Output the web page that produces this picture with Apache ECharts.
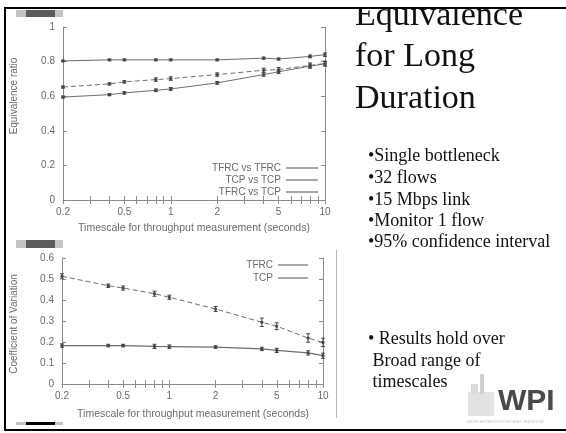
<!DOCTYPE html>
<html><head><meta charset="utf-8">
<script src="https://cdn.jsdelivr.net/npm/echarts@6/dist/echarts.min.js"></script>
<style>html,body{margin:0;padding:0;background:#fff}#c{width:566px;height:433px}</style>
</head><body><div id="c"></div>
<script>
// ---- data: top chart (equivalence ratio) ----
const timescales = [0.2, 0.4, 0.5, 0.8, 1, 2, 4, 5, 8, 10];
const tfrcVsTfrc = [0.804, 0.81, 0.81, 0.81, 0.81, 0.81, 0.82, 0.815, 0.83, 0.84];
const tfrcVsTfrcErr = [0.004, 0.005, 0.005, 0.005, 0.005, 0.005, 0.006, 0.006, 0.008, 0.01];
const tfrcVsTcp = [0.653, 0.671, 0.683, 0.696, 0.702, 0.725, 0.75, 0.754, 0.778, 0.789];
const tfrcVsTcpErr = [0.006, 0.006, 0.007, 0.01, 0.01, 0.01, 0.012, 0.012, 0.014, 0.014];
const tcpVsTcp = [0.595, 0.609, 0.619, 0.634, 0.642, 0.677, 0.725, 0.741, 0.774, 0.787];
const tcpVsTcpErr = [0.006, 0.006, 0.007, 0.008, 0.008, 0.008, 0.01, 0.01, 0.012, 0.012];
// ---- data: bottom chart (coefficient of variation) ----
const cvTfrc = [0.183, 0.183, 0.183, 0.179, 0.178, 0.176, 0.167, 0.16, 0.148, 0.135];
const cvTfrcErr = [0.008, 0.006, 0.006, 0.01, 0.008, 0.006, 0.008, 0.01, 0.01, 0.012];
const cvTcp = [0.513, 0.468, 0.457, 0.43, 0.413, 0.357, 0.294, 0.275, 0.219, 0.198];
const cvTcpErr = [0.012, 0.008, 0.01, 0.012, 0.01, 0.012, 0.02, 0.016, 0.02, 0.02];
// ---- tick labels ----
const xLabelTicks = [0.2, 0.5, 1, 2, 5, 10];
const xMinorTicks = [0.2, 0.3, 0.4, 0.5, 0.6, 0.7, 0.8, 0.9, 1, 2, 3, 4, 5, 6, 7, 8, 9, 10];
const xTitle = 'Timescale for throughput measurement (seconds)';
const titleLines = ['Equivalence', 'for Long', 'Duration'];
const bullets = ['\u2022Single bottleneck', '\u202232 flows', '\u202215 Mbps link', '\u2022Monitor 1 flow', '\u202295% confidence interval'];
const results = ['\u2022 Results hold over', ' Broad range of', ' timescales'];

const AX = '#8a8a8a', TXT = '#6a6a6a', LINE = '#6e6e6e';
const SANS = 'Liberation Sans, Arial, sans-serif';
const SERIF = 'Liberation Serif, Times New Roman, serif';

function pairs(ys) { return timescales.map((t, i) => [t, ys[i]]); }
function triples(ys, es) { return timescales.map((t, i) => [t, ys[i], es[i]]); }

function errRender(params, api) {
  const x = api.value(0), y = api.value(1), e = api.value(2);
  const hi = api.coord([x, y + e]), lo = api.coord([x, y - e]), c = api.coord([x, y]);
  const w = 2, st = { stroke: '#444', lineWidth: 1 };
  return { type: 'group', children: [
    { type: 'line', shape: { x1: hi[0], y1: hi[1], x2: lo[0], y2: lo[1] }, style: st },
    { type: 'line', shape: { x1: hi[0] - w, y1: hi[1], x2: hi[0] + w, y2: hi[1] }, style: st },
    { type: 'line', shape: { x1: lo[0] - w, y1: lo[1], x2: lo[0] + w, y2: lo[1] }, style: st },
    { type: 'circle', shape: { cx: c[0], cy: c[1], r: 1.6 }, style: { fill: '#444' } }
  ] };
}

function xAxes(gi) {
  const base = { type: 'log', gridIndex: gi, min: 0.2, max: 10, logBase: 10,
    splitLine: { show: false }, axisLine: { lineStyle: { color: AX } } };
  return [
    Object.assign({}, base, { position: 'bottom',
      axisTick: { inside: true, length: 4, lineStyle: { color: AX }, customValues: xMinorTicks },
      axisLabel: { customValues: xLabelTicks, color: TXT, fontSize: 10, fontFamily: SANS, margin: 7,
        formatter: v => String(+(+v).toPrecision(3)) } }),
    Object.assign({}, base, { position: 'top',
      axisTick: { inside: true, length: 4, lineStyle: { color: AX }, customValues: xMinorTicks },
      axisLabel: { show: false } })
  ];
}
function yAxes(gi, max, interval) {
  const base = { type: 'value', gridIndex: gi, min: 0, max: max, interval: interval,
    splitLine: { show: false }, axisLine: { show: true, lineStyle: { color: AX } },
    axisTick: { inside: true, length: 4, lineStyle: { color: AX } } };
  return [
    Object.assign({}, base, { position: 'left',
      axisLabel: { color: TXT, fontSize: 10, fontFamily: SANS, margin: 8,
        formatter: v => String(+v.toFixed(1)) } }),
    Object.assign({}, base, { position: 'right', axisLabel: { show: false } })
  ];
}

function lineSeries(name, xi, yi, data, dashed, w) {
  return { name: name, type: 'line', xAxisIndex: xi, yAxisIndex: yi, data: data,
    symbol: 'none', lineStyle: { color: LINE, width: w || 1, type: dashed ? [5, 3] : 'solid' },
    itemStyle: { color: LINE }, animation: false, z: 3 };
}
function errSeries(xi, yi, data) {
  return { type: 'custom', xAxisIndex: xi, yAxisIndex: yi, data: data,
    renderItem: errRender, animation: false, z: 4, silent: true };
}

const graphics = [];
// title
titleLines.forEach((s, i) => graphics.push({ type: 'text', x: 355, y: [16, 57, 99][i],
  style: { text: s, font: '34px ' + SERIF, fill: '#111', verticalAlign: 'middle' }, z: 5 }));
bullets.forEach((s, i) => graphics.push({ type: 'text', x: 368, y: [156, 178, 200, 221, 242][i],
  style: { text: s, font: '18px ' + SERIF, fill: '#111', verticalAlign: 'middle' }, z: 5 }));
results.forEach((s, i) => graphics.push({ type: 'text', x: 368, y: [339, 361, 382][i],
  style: { text: s, font: '18px ' + SERIF, fill: '#111', verticalAlign: 'middle' }, z: 5 }));
// clip area above the slide's top rule
graphics.push({ type: 'rect', shape: { x: 0, y: 0, width: 566, height: 8 }, style: { fill: '#fff' }, z: 9 });
// axis titles
graphics.push({ type: 'text', x: 14, y: 96, rotation: Math.PI / 2,
  style: { text: 'Equivalence ratio', font: '10px ' + SANS, fill: TXT, align: 'center', verticalAlign: 'middle' } });
graphics.push({ type: 'text', x: 14, y: 324, rotation: Math.PI / 2,
  style: { text: 'Coefficient of Variation', font: '10px ' + SANS, fill: TXT, align: 'center', verticalAlign: 'middle' } });
graphics.push({ type: 'text', x: 194, y: 228,
  style: { text: xTitle, font: '10.5px ' + SANS, fill: TXT, align: 'center', verticalAlign: 'middle' } });
graphics.push({ type: 'text', x: 193, y: 414,
  style: { text: xTitle, font: '10.5px ' + SANS, fill: TXT, align: 'center', verticalAlign: 'middle' } });
// gray decorative bars
function grayBar(y, h, dark) {
  graphics.push({ type: 'rect', shape: { x: 16, y: y, width: 47, height: h }, style: { fill: '#c4c4c4' }, z: 11 });
  graphics.push({ type: 'rect', shape: { x: 26, y: y, width: 29, height: h }, style: { fill: dark }, z: 11 });
}
grayBar(10, 7, '#5c5c5c');
grayBar(240, 8, '#5c5c5c');
grayBar(422, 3, '#000');
// right vertical gray rule of lower chart
graphics.push({ type: 'line', shape: { x1: 336.5, y1: 250, x2: 336.5, y2: 418 }, style: { stroke: '#b5b5b5', lineWidth: 1 } });
// frame
graphics.push({ type: 'line', shape: { x1: 4, y1: 8, x2: 566, y2: 8 }, style: { stroke: '#000', lineWidth: 2 }, z: 10 });
graphics.push({ type: 'line', shape: { x1: 5, y1: 8, x2: 5, y2: 431 }, style: { stroke: '#000', lineWidth: 2 }, z: 10 });
graphics.push({ type: 'line', shape: { x1: 4, y1: 430, x2: 566, y2: 430 }, style: { stroke: '#000', lineWidth: 2 }, z: 10 });
// WPI logo
graphics.push({ type: 'rect', shape: { x: 468, y: 392, width: 26, height: 24 }, style: { fill: '#e2e2e2' } });
graphics.push({ type: 'rect', shape: { x: 480, y: 374, width: 4, height: 20 }, style: { fill: '#cfcfcf' } });
graphics.push({ type: 'rect', shape: { x: 471, y: 384, width: 7, height: 10 }, style: { fill: '#dadada' } });
graphics.push({ type: 'text', x: 498, y: 402, style: { text: 'WPI', font: 'bold 30px ' + SANS, fill: '#4a4a4a', verticalAlign: 'middle' } });
graphics.push({ type: 'text', x: 467, y: 422, style: { text: 'WORCESTER POLYTECHNIC INSTITUTE', font: '4px ' + SANS, fill: '#bbb', verticalAlign: 'middle' } });

const legendText = { color: TXT, fontSize: 10, fontFamily: SANS };
const option = {
  backgroundColor: '#fff',
  animation: false,
  grid: [
    { left: 63, top: 27, width: 262, height: 173 },
    { left: 62, top: 258, width: 261, height: 126 }
  ],
  xAxis: xAxes(0).concat(xAxes(1)),
  yAxis: yAxes(0, 1, 0.2).concat(yAxes(1, 0.6, 0.1)),
  legend: [
    { data: ['TFRC vs TFRC', 'TCP vs TCP', 'TFRC vs TCP'], orient: 'vertical', align: 'right',
      right: 248, top: 163, itemWidth: 32, itemHeight: 1.2, itemGap: 2, icon: 'rect',
      textStyle: legendText, padding: 0, selectedMode: false },
    { data: ['TFRC', 'TCP'], orient: 'vertical', align: 'right',
      right: 258, top: 260, itemWidth: 30, itemHeight: 1.2, itemGap: 3, icon: 'rect',
      textStyle: legendText, padding: 0, selectedMode: false }
  ],
  series: [
    lineSeries('TFRC vs TFRC', 0, 0, pairs(tfrcVsTfrc), false),
    lineSeries('TCP vs TCP', 0, 0, pairs(tcpVsTcp), false),
    lineSeries('TFRC vs TCP', 0, 0, pairs(tfrcVsTcp), true),
    errSeries(0, 0, triples(tfrcVsTfrc, tfrcVsTfrcErr)),
    errSeries(0, 0, triples(tcpVsTcp, tcpVsTcpErr)),
    errSeries(0, 0, triples(tfrcVsTcp, tfrcVsTcpErr)),
    lineSeries('TFRC', 2, 2, pairs(cvTfrc), false, 1.3),
    lineSeries('TCP', 2, 2, pairs(cvTcp), true),
    errSeries(2, 2, triples(cvTfrc, cvTfrcErr)),
    errSeries(2, 2, triples(cvTcp, cvTcpErr))
  ],
  graphic: graphics
};
const chart = echarts.init(document.getElementById('c'), null, { renderer: 'canvas' });
chart.setOption(option);
</script></body></html>
